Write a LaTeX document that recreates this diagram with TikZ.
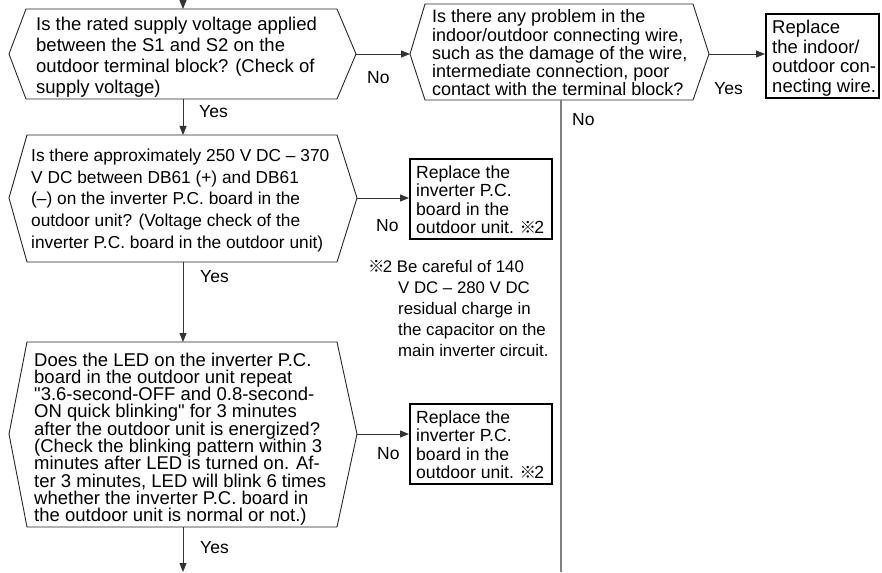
\documentclass[tikz,border=0pt]{standalone}
\usepackage{fontspec}
\newfontfamily\lib{Liberation Sans}
\newfontfamily\cjkfont{Noto Sans CJK JP}
\usetikzlibrary{arrows.meta}
\newcommand{\refmark}{\kern-1pt{\cjkfont\fontsize{16.5}{16.5}\selectfont ※}\kern-1.8pt}
\begin{document}
\begin{tikzpicture}[x=1pt,y=-1pt,
  hexline/.style={draw=black!85, line width=0.9pt},
  conn/.style={draw=black!80, line width=0.9pt},
  arr/.style={conn, -{Triangle[length=9pt,width=7pt]}},
  vline/.style={draw=black!50, line width=1.1pt},
  endbox/.style={draw=black, line width=2.2pt, inner sep=0pt, anchor=north west},
  txt/.style={anchor=base west, align=left, inner sep=0pt},
  lbl/.style={anchor=base west, inner sep=0pt, font=\lib\fontsize{17.5}{21}\selectfont}
]
\useasboundingbox (0,0) rectangle (882,572);

% hexagon 1
\coordinate (h1w) at (9,54);
\coordinate (h1e) at (356,54);
\coordinate (h1n) at (183,9);
\coordinate (h1s) at (183,99);
\draw[hexline] (h1w) -- (26,9) -- (337,9) -- (h1e) -- (337,99) -- (26,99) -- cycle;
% (anchor = baseline of the last line)
\node[txt, font=\lib\fontsize{18.5}{21}\selectfont] (t1) at (36,94)
 {Is the rated supply voltage applied\\between the S1 and S2 on the\\outdoor terminal block? (Check of\\supply voltage)};

% hexagon 3
\coordinate (h3w) at (410,54);
\coordinate (h3e) at (709,54);
\coordinate (h3s) at (561,100);
\draw[hexline] (h3w) -- (425,4) -- (693,4) -- (h3e) -- (693,100) -- (425,100) -- cycle;
\node[txt, font=\lib\fontsize{18}{18.2}\selectfont] (t3) at (432,95.8)
 {Is there any problem in the\\indoor/outdoor connecting wire,\\such as the damage of the wire,\\intermediate connection, poor\\contact with the terminal block?};

% box 1
\node[endbox, minimum width=113, minimum height=84] (b1) at (765,13) {};
\node[txt, font=\lib\fontsize{18.5}{19.5}\selectfont] (tb1) at (772,92.5)
 {Replace\\the indoor/\\outdoor con-\\necting wire.};

% hexagon 2
\coordinate (h2w) at (9,198);
\coordinate (h2e) at (357,198);
\coordinate (h2n) at (183,135);
\coordinate (h2s) at (183,262);
\draw[hexline] (h2w) -- (27,135) -- (337,135) -- (h2e) -- (337,262) -- (27,262) -- cycle;
\node[txt, font=\lib\fontsize{17.3}{21.7}\selectfont] (t2) at (31,248.3)
 {Is there approximately 250 V DC – 370\\V DC between DB61 (+) and DB61\\(–) on the inverter P.C. board in the\\outdoor unit? (Voltage check of the\\inverter P.C. board in the outdoor unit)};

% box 2
\node[endbox, minimum width=142, minimum height=80] (b2) at (409,158) {};
\node[txt, font=\lib\fontsize{17.6}{18.5}\selectfont] (tb2) at (416,233.5)
 {Replace the\\inverter P.C.\\board in the\\outdoor unit. \refmark 2};

% note
\node[txt, font=\lib\fontsize{16.8}{21}\selectfont] (note) at (368,356)
 {\kern1pt\refmark 2 Be careful of 140\\\hspace*{30pt}V DC – 280 V DC\\\hspace*{30pt}residual charge in\\\hspace*{30pt}the capacitor on the\\\hspace*{30pt}main inverter circuit.};

% hexagon 4
\coordinate (h4w) at (9,434);
\coordinate (h4e) at (357,434);
\coordinate (h4n) at (183,342);
\coordinate (h4s) at (183,527);
\draw[hexline] (h4w) -- (27,342) -- (337,342) -- (h4e) -- (337,527) -- (27,527) -- cycle;
\node[txt, font=\lib\fontsize{18.5}{17.3}\selectfont] (t4) at (34,521.7)
 {Does the LED on the inverter P.C.\\board in the outdoor unit repeat\\"3.6-second-OFF and 0.8-second-\\ON quick blinking" for 3 minutes\\after the outdoor unit is energized?\\(Check the blinking pattern within 3\\minutes after LED is turned on. Af-\\ter 3 minutes, LED will blink 6 times\\whether the inverter P.C. board in\\the outdoor unit is normal or not.)};

% box 3
\node[endbox, minimum width=142, minimum height=80] (b3) at (409,403) {};
\node[txt, font=\lib\fontsize{17.6}{18.5}\selectfont] (tb3) at (416,478.5)
 {Replace the\\inverter P.C.\\board in the\\outdoor unit. \refmark 2};

% connectors
\coordinate (start) at (183,0);
\coordinate (finish) at (183,572);
\coordinate (vend) at (561,572);
\draw[arr] (start) -- (h1n);
\draw[arr] (h1s) -- (h2n);
\draw[arr] (h1e) -- (h3w);
\draw[arr] (h3e) -- (h3e -| b1.west);
\draw[vline] (h3s) -- (vend);
\draw[arr] (h2e) -- (h2e -| b2.west);
\draw[arr] (h2s) -- (h4n);
\draw[arr] (h4e) -- (h4e -| b3.west);
\draw[arr] (h4s) -- (finish);

% labels
\node[lbl] (y1) at (199,118) {Yes};
\node[lbl] (n1) at (367,84) {No};
\node[lbl] (y2) at (714,95) {Yes};
\node[lbl] (n2) at (572,126) {No};
\node[lbl] (n3) at (376,231) {No};
\node[lbl] (y3) at (200,282) {Yes};
\node[lbl] (n4) at (377,459) {No};
\node[lbl] (y4) at (200,553) {Yes};
\end{tikzpicture}
\end{document}
